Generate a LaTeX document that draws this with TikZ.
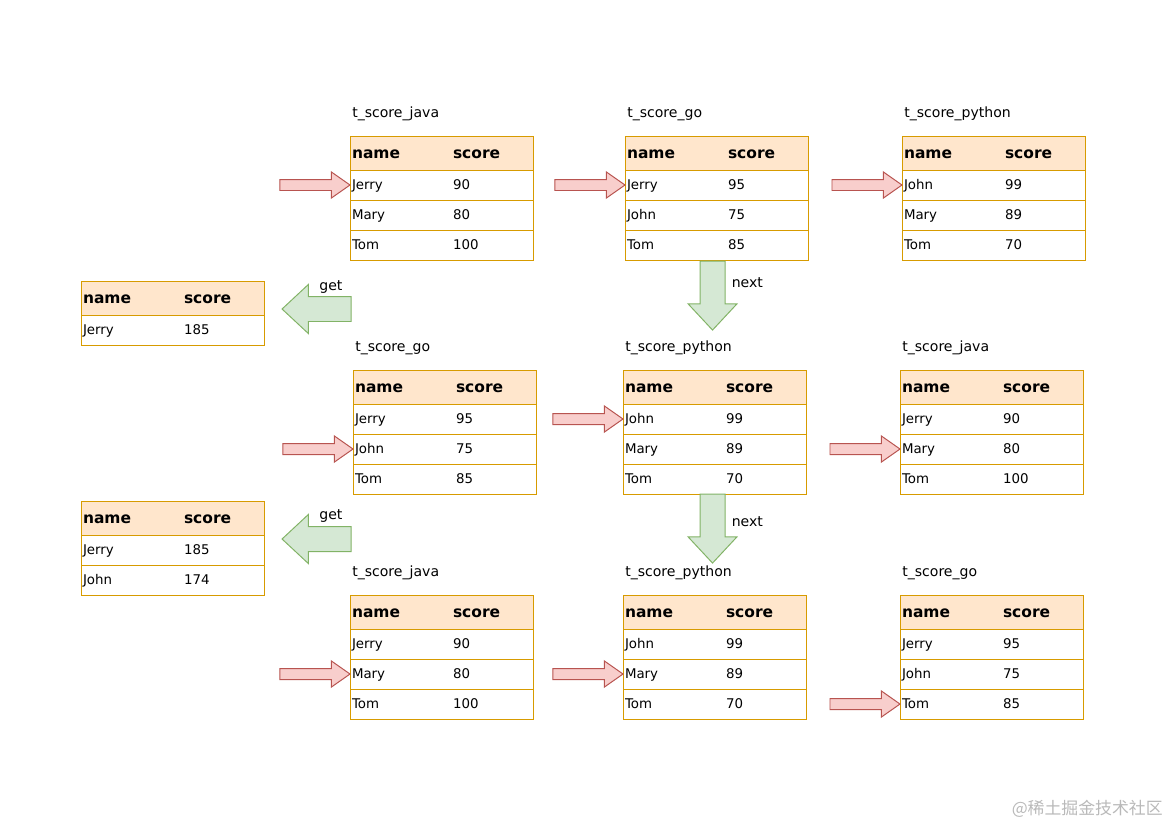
\documentclass[tikz,border=0pt]{standalone}
\usepackage{fontspec}
\setmainfont{DejaVu Sans}
\newfontfamily\cjkfont{Noto Sans CJK SC}
\usepackage{tikz}
\usetikzlibrary{positioning,calc,shapes.arrows}
\definecolor{tabline}{HTML}{D79B00}
\definecolor{tabhead}{HTML}{FFE6CC}
\definecolor{ptrline}{HTML}{B85450}
\definecolor{ptrfill}{HTML}{F8CECC}
\definecolor{flowline}{HTML}{82B366}
\definecolor{flowfill}{HTML}{D5E8D4}
\tikzset{
  cell/.style={draw=tabline, line width=0.7pt, anchor=north west, text width=4.475cm,
               inner xsep=0.05cm, inner ysep=0pt, outer sep=0pt, align=left},
  hcell/.style={cell, fill=tabhead, minimum height=0.85cm, text height=10pt, text depth=2pt,
                font=\fontsize{11}{13}\selectfont\bfseries},
  rcell/.style={cell, fill=white, minimum height=0.75cm, text height=7.5pt, text depth=1pt,
                font=\fontsize{9.5}{11}\selectfont},
  ttl/.style={anchor=west, inner sep=0pt, font=\fontsize{10}{12}\selectfont},
  lbl/.style={anchor=west, inner sep=0pt, font=\fontsize{10}{12}\selectfont},
  ptr/.style={single arrow, draw=ptrline, fill=ptrfill, line width=0.7pt, minimum height=1.75cm,
              inner sep=0pt, inner ysep=0.125cm, outer sep=0pt, single arrow head extend=0.19cm,
              single arrow tip angle=70},
  flow/.style={single arrow, draw=flowline, fill=flowfill, line width=0.7pt, minimum height=1.725cm,
               inner sep=0pt, inner ysep=0.3cm, outer sep=0pt, single arrow head extend=0.3cm,
               single arrow tip angle=86},
}
% one table: node name, north west corner, rows
\newcommand{\scoretab}[3]{%
  \node[hcell] (#1-0) at (#2) {\makebox[2.525cm][l]{name}score};
  \foreach \who/\pts [count=\i, remember=\i as \j (initially 0)] in {#3}
    \node[rcell, below=0pt of #1-\j] (#1-\i) {\makebox[2.525cm][l]{\who}\pts};
}

\begin{document}
\begin{tikzpicture}[x=0.025cm, y=-0.025cm]
  \useasboundingbox (0,0) rectangle (1169,827);

  % step 1
  \scoretab{s1java}{350,136}{Jerry/90, Mary/80, Tom/100}
  \scoretab{s1go}{625,136}{Jerry/95, John/75, Tom/85}
  \scoretab{s1py}{902,136}{John/99, Mary/89, Tom/70}
  % step 2
  \scoretab{s2go}{353,370}{Jerry/95, John/75, Tom/85}
  \scoretab{s2py}{623,370}{John/99, Mary/89, Tom/70}
  \scoretab{s2java}{900,370}{Jerry/90, Mary/80, Tom/100}
  % step 3
  \scoretab{s3java}{350,595}{Jerry/90, Mary/80, Tom/100}
  \scoretab{s3py}{623,595}{John/99, Mary/89, Tom/70}
  \scoretab{s3go}{900,595}{Jerry/95, John/75, Tom/85}
  % results
  \scoretab{res1}{81,281}{Jerry/185}
  \scoretab{res2}{81,501}{Jerry/185, John/174}

  \foreach \t/\s in {s1java/java, s1go/go, s1py/python, s2go/go, s2py/python,
                     s2java/java, s3java/java, s3py/python, s3go/go}
    \node[ttl] (\t-t) at ($(\t-0.north west)+(2,-22)$) {t\_score\_\s};

  % cursors
  \foreach \c in {s1java-1, s1go-1, s1py-1, s2go-2, s2py-1, s2java-2, s3java-2, s3py-2, s3go-3}
    \node[ptr, anchor=tip] (\c-p) at (\c.west) {};

  % next / get
  \node[flow, rotate=-90, anchor=tail] (next1) at ($(s1go-3.south)+(-4,1)$) {};
  \node[lbl] (next1-l) at ($(next1.tail)+(19,22)$) {next};
  \node[flow, rotate=-90, anchor=tail] (next2) at ($(s2py-3.south)+(-2,0)$) {};
  \node[lbl] (next2-l) at ($(next2.tail)+(19,28)$) {next};
  \node[flow, rotate=180, anchor=tip] (get1) at ($(res1-0.south east)+(18,-6)$) {};
  \node[lbl] (get1-l) at ($(get1.tail)+(-32,-22)$) {get};
  \node[flow, rotate=180, anchor=tip] (get2) at ($(res2-0.south east)+(18,4)$) {};
  \node[lbl] (get2-l) at ($(get2.tail)+(-32,-23)$) {get};

  \node[anchor=east, inner sep=0pt, text=gray!55, font=\cjkfont\fontsize{12}{14}\selectfont] (mark)
    at (1163,809) {@稀土掘金技术社区};
\end{tikzpicture}
\end{document}
